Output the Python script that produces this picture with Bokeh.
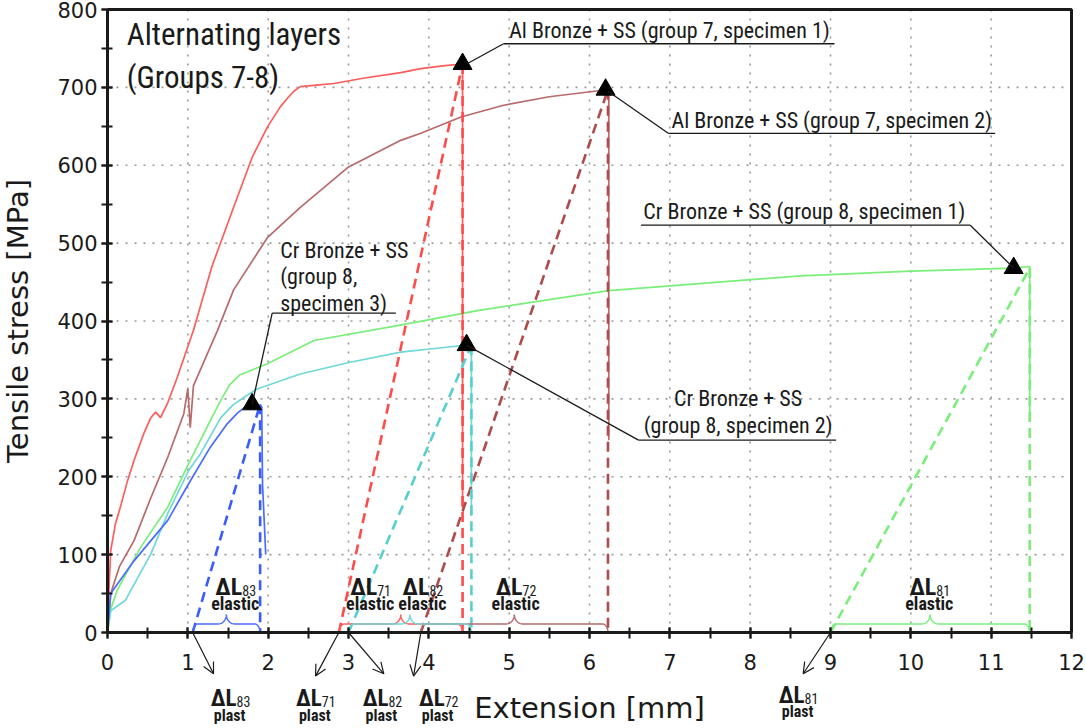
import numpy as np
from bokeh.plotting import figure
from bokeh.models import Label, Arrow, OpenHead, Range1d, SingleIntervalTicker
from bokeh.embed import file_html
from bokeh.resources import INLINE

# ---------------- measured tensile curves (extension mm, stress MPa) ----------------
# Al Bronze + SS, group 7, specimen 1
g71_ext = [0, 0.02, 0.04, 0.10, 0.16, 0.25, 0.33, 0.45, 0.54, 0.60, 0.66, 0.75, 0.87, 1.07, 1.30,
           1.57, 1.80, 1.99, 2.15, 2.24, 2.32, 2.40, 2.60, 2.82, 3.20, 3.65, 3.90, 4.20, 4.42, 4.42]
g71_str = [0, 60, 105, 140, 161, 195, 221, 255, 276, 283, 276, 295, 328, 388, 470,
           546, 610, 649, 675, 686, 695, 701, 703, 705, 712, 719, 724, 728, 730, 160]
# Al Bronze + SS, group 7, specimen 2
g72_ext = [0, 0.04, 0.15, 0.33, 0.54, 0.75, 0.95, 1.00, 1.03, 1.07, 1.37, 1.57, 1.99, 2.40, 2.99,
           3.65, 3.90, 4.40, 4.93, 5.50, 6.14, 6.24, 6.24]
g72_str = [0, 50, 85, 118, 173, 225, 281, 313, 263, 317, 388, 440, 507, 546, 597,
           632, 641, 662, 677, 688, 696, 697, 247]
# Cr Bronze + SS, group 8, specimen 1
g81_ext = [0, 0.04, 0.12, 0.41, 0.75, 1.01, 1.28, 1.42, 1.52, 1.65, 1.99, 2.57, 3.61, 4.64, 6.24,
           8.63, 10.00, 11.28, 11.48, 11.48]
g81_str = [0, 30, 54, 109, 161, 217, 272, 300, 318, 331, 345, 375, 394, 414, 439,
           458, 464, 468, 470, 276]
# Cr Bronze + SS, group 8, specimen 2
g82_ext = [0, 0.04, 0.22, 0.54, 0.75, 1.01, 1.16, 1.41, 1.56, 1.70, 1.87, 2.40, 3.02, 3.65, 4.10,
           4.47, 4.53, 4.53]
g82_str = [0, 28, 41, 101, 153, 208, 230, 276, 292, 302, 313, 332, 347, 360, 365,
           369, 369, 150]
# Cr Bronze + SS, group 8, specimen 3
g83_ext = [0, 0.04, 0.33, 0.75, 1.01, 1.28, 1.49, 1.62, 1.72, 1.80, 1.88, 1.92, 1.93, 1.97]
g83_str = [0, 50, 92, 144, 191, 238, 268, 282, 290, 293, 291, 290, 190, 100]

# ---------------- maxima and elongation split ----------------
specimens = ["71", "72", "81", "82", "83"]
peak_ext = [4.42, 6.20, 11.28, 4.47, 1.80]      # position of the maximum-stress marker
peak_str = [730, 697, 468, 369, 293]            # ultimate tensile stress, MPa
plast_ext = [2.88, 3.90, 9.00, 3.00, 1.06]      # plastic elongation (unloading line meets 0)
total_ext = [4.42, 6.23, 11.48, 4.53, 1.90]     # elongation at fracture

x_axis_end = 12
y_axis_end = 800

# ---------------- styling ----------------
curve_col = ["#ff5c5c", "#b86a6a", "#7aee7a", "#6fd8d8", "#4a6cff"]
dash_col = ["#ff4a4a", "#b04a4a", "#7aee7a", "#55cfcf", "#3a5cff"]
NARROW = "'Liberation Sans Narrow', 'Arial Narrow', 'Roboto Condensed', sans-serif"
AXFONT = "DejaVu Sans"
INK = "#1a1a1a"

# the frame covers the whole canvas so that the notes under the extension axis stay visible;
# both axes are pinned at zero
PX_PER_MM = 964 / 12
PX_PER_MPA = 623 / 800
x_lo = -107 / PX_PER_MM
x_hi = x_lo + 1086 / PX_PER_MM
y_hi = 800 + 9 / PX_PER_MPA
y_lo = y_hi - 728 / PX_PER_MPA

p = figure(width=1086, height=728, x_range=Range1d(x_lo, x_hi), y_range=Range1d(y_lo, y_hi),
           output_backend="svg", toolbar_location=None,
           min_border_left=0, min_border_right=0, min_border_top=0, min_border_bottom=0)
p.background_fill_color = "white"
p.border_fill_color = "white"
p.outline_line_color = None
p.xgrid.visible = False
p.ygrid.visible = False

p.xaxis.ticker = SingleIntervalTicker(interval=1, num_minor_ticks=2)
p.yaxis.ticker = SingleIntervalTicker(interval=100, num_minor_ticks=2)
p.xaxis.fixed_location = 0
p.yaxis.fixed_location = 0
p.xaxis.bounds = (0, x_axis_end)
p.yaxis.bounds = (0, y_axis_end)
for ax in (p.xaxis, p.yaxis):
    ax.axis_line_width = 3
    ax.axis_line_color = INK
    ax.major_tick_line_color = INK
    ax.minor_tick_line_color = INK
    ax.major_tick_line_width = 2
    ax.minor_tick_line_width = 2
    ax.major_tick_in = 5
    ax.major_tick_out = 6
    ax.minor_tick_in = 5
    ax.minor_tick_out = 6
    ax.major_label_text_font = AXFONT
    ax.major_label_text_font_size = "21px"
    ax.major_label_text_color = INK
    ax.axis_label_text_font = AXFONT
    ax.axis_label_text_font_size = "29px"
    ax.axis_label_text_font_style = "normal"
    ax.axis_label_text_color = INK
p.xaxis.axis_label = "Extension [mm]"
p.yaxis.axis_label = "Tensile stress [MPa]"
p.xaxis.major_label_standoff = 15
p.yaxis.major_label_standoff = 4
p.xaxis.axis_label_standoff = 18
p.yaxis.axis_label_standoff = 19

# dotted grid at the major ticks and the upper/right frame lines
gx = list(range(1, x_axis_end))
gy = list(range(100, y_axis_end, 100))
p.segment(gx, [0] * len(gx), gx, [y_axis_end] * len(gx), line_color="#9a9a9a", line_width=1.6,
          line_dash="2 7")
p.segment([0] * len(gy), gy, [x_axis_end] * len(gy), gy, line_color="#9a9a9a", line_width=1.6,
          line_dash="2 7")
p.line([0, x_axis_end, x_axis_end], [y_axis_end, y_axis_end, 0], line_color=INK, line_width=3)

# ---------------- curves ----------------
curves = [(g71_ext, g71_str), (g72_ext, g72_str), (g81_ext, g81_str), (g82_ext, g82_str), (g83_ext, g83_str)]
for (xs, ys), c in zip(curves, curve_col):
    p.line(xs, ys, line_color=c, line_width=1.7)

# elastic unloading lines and fracture verticals
for i in range(len(specimens)):
    p.line([plast_ext[i], total_ext[i]], [0, peak_str[i]], line_color=dash_col[i], line_width=2.6,
           line_dash="10 6")
    p.line([total_ext[i], total_ext[i]], [peak_str[i], 0], line_color=dash_col[i], line_width=2.6,
           line_dash="10 6")


# curly braces marking the elastic part of the elongation
def brace(x0, x1, h, tip, r_end, r_tip):
    xm = (x0 + x1) / 2
    th = np.linspace(0, np.pi / 2, 14)
    xs = list(x0 + r_end * (1 - np.cos(th)))
    ys = list(h * np.sin(th))
    xs += list(xm - r_tip + r_tip * np.sin(th))
    ys += list(h + (tip - h) * (1 - np.cos(th)))
    xs += list(xm + r_tip - r_tip * np.sin(th[::-1]))
    ys += list(h + (tip - h) * (1 - np.cos(th[::-1])))
    xs += list(x1 - r_end * (1 - np.cos(th[::-1])))
    ys += list(h * np.sin(th[::-1]))
    return xs, ys


for i in range(len(specimens)):
    bx, by = brace(plast_ext[i], total_ext[i], 11, 23, 0.07, 0.1)
    p.line(bx, by, line_color=curve_col[i], line_width=1.4)

# maximum markers
p.scatter(peak_ext, peak_str, marker="triangle", size=19, color="black")

# ---------------- callouts ----------------
def txt(x, y, s, size, align="left", baseline="middle", bold=False, xo=0, font=NARROW):
    p.add_layout(Label(x=x, y=y, text=s, text_font=font, text_font_size=size, text_align=align,
                       text_baseline=baseline, text_color=INK, x_offset=xo,
                       text_font_style="bold" if bold else "normal"))


def seg(xa, ya, xb, yb):
    p.line([xa, xb], [ya, yb], line_color=INK, line_width=1.3)


txt(0.24, 768, "Alternating layers", "31px")
txt(0.24, 713, "(Groups 7-8)", "31px")

# group 7 specimen 1
txt(5.0, 773, "Al Bronze + SS (group 7, specimen 1)", "22px")
seg(4.93, 756, 9.05, 756)
seg(4.93, 756, peak_ext[0] + 0.05, peak_str[0])
# group 7 specimen 2
txt(7.02, 657, "Al Bronze + SS (group 7, specimen 2)", "22px")
seg(6.98, 641, 11.05, 641)
seg(6.98, 641, peak_ext[1] + 0.03, peak_str[1] - 2)
# group 8 specimen 1
txt(6.67, 541, "Cr Bronze + SS (group 8, specimen 1)", "22px")
seg(6.64, 523, 10.74, 523)
seg(10.74, 523, peak_ext[2], peak_str[2])
# group 8 specimen 3
txt(2.15, 491, "Cr Bronze + SS", "22px")
txt(2.15, 457, "(group 8,", "22px")
txt(2.15, 423, "specimen 3)", "22px")
seg(2.05, 410, 3.59, 410)
seg(2.05, 410, peak_ext[4], peak_str[4])
# group 8 specimen 2
txt(7.85, 300, "Cr Bronze + SS", "22px", align="center")
txt(7.85, 266, "(group 8, specimen 2)", "22px", align="center")
seg(6.61, 247, 9.07, 247)
seg(6.61, 247, peak_ext[3], peak_str[3])

# ---------------- elongation labels ----------------
elastic_lab_x = [3.27, 5.08, 10.23, 3.92, 1.59]
plast_lab_x = [2.58, 4.11, 8.59, 3.41, 1.52]
plast_arrow_end = [(2.59, -56), (3.81, -56), (8.66, -53), (3.44, -53), (1.32, -53)]
plast_lab_y = [(-85, -106), (-85, -106), (-81, -102), (-85, -106), (-85, -106)]

for i, s in enumerate(specimens):
    xe = elastic_lab_x[i]
    txt(xe, 58, "\u0394L", "24px", align="right", baseline="alphabetic", bold=True, xo=7)
    txt(xe, 54, s, "14px", align="left", baseline="alphabetic", xo=7)
    txt(xe, 37, "elastic", "18px", align="center", baseline="alphabetic", bold=True)

    xp = plast_lab_x[i]
    yl, yp = plast_lab_y[i]
    txt(xp, yl, "\u0394L", "23px", align="right", baseline="alphabetic", bold=True, xo=7)
    txt(xp, yl - 4, s, "14px", align="left", baseline="alphabetic", xo=7)
    txt(xp, yp, "plast", "16px", align="center", baseline="alphabetic", bold=True)
    ax_, ay_ = plast_arrow_end[i]
    p.add_layout(Arrow(end=OpenHead(size=11, line_width=1.2, line_color=INK),
                       x_start=plast_ext[i], y_start=0, x_end=ax_, y_end=ay_,
                       line_color=INK, line_width=1.2))

open("out.html", "w").write(file_html(p, INLINE))
